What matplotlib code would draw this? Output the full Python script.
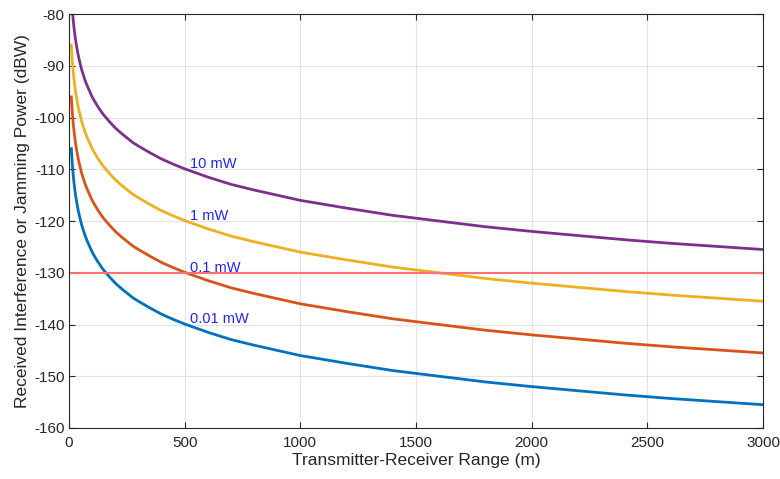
import matplotlib.pyplot as plt
from matplotlib import rcParams

rcParams["font.family"] = ["Liberation Sans", "DejaVu Sans"]
rcParams["axes.unicode_minus"] = False

# range values (m) along the x axis
range_m = [10, 11, 12, 13, 14, 15, 17, 20, 22, 25, 28, 30, 35, 40, 45, 50, 55, 60,
           70, 80, 90, 100, 110, 125, 140, 150, 175, 200, 225, 250, 275, 300, 350,
           400, 450, 500, 600, 700, 800, 900, 1000, 1200, 1400, 1600, 1800, 2000,
           2200, 2400, 2600, 2800, 3000]

# received power (dBW)
p_001mw = [-106.0, -106.8, -107.5, -108.2, -108.9, -109.5, -110.6, -112.0, -112.8,
           -113.9, -114.9, -115.5, -116.8, -118.0, -119.0, -119.9, -120.8, -121.5,
           -122.9, -124.0, -125.0, -126.0, -126.8, -127.9, -128.9, -129.5, -130.8,
           -132.0, -133.0, -133.9, -134.8, -135.5, -136.8, -138.0, -139.0, -139.9,
           -141.5, -142.9, -144.0, -145.0, -146.0, -147.5, -148.9, -150.0, -151.1,
           -152.0, -152.8, -153.6, -154.3, -154.9, -155.5]
p_01mw = [-96.0, -96.8, -97.5, -98.2, -98.9, -99.5, -100.6, -102.0, -102.8,
          -103.9, -104.9, -105.5, -106.8, -108.0, -109.0, -109.9, -110.8, -111.5,
          -112.9, -114.0, -115.0, -116.0, -116.8, -117.9, -118.9, -119.5, -120.8,
          -122.0, -123.0, -123.9, -124.8, -125.5, -126.8, -128.0, -129.0, -129.9,
          -131.5, -132.9, -134.0, -135.0, -136.0, -137.5, -138.9, -140.0, -141.1,
          -142.0, -142.8, -143.6, -144.3, -144.9, -145.5]
p_1mw = [-86.0, -86.8, -87.5, -88.2, -88.9, -89.5, -90.6, -92.0, -92.8,
         -93.9, -94.9, -95.5, -96.8, -98.0, -99.0, -99.9, -100.8, -101.5,
         -102.9, -104.0, -105.0, -106.0, -106.8, -107.9, -108.9, -109.5, -110.8,
         -112.0, -113.0, -113.9, -114.8, -115.5, -116.8, -118.0, -119.0, -119.9,
         -121.5, -122.9, -124.0, -125.0, -126.0, -127.5, -128.9, -130.0, -131.1,
         -132.0, -132.8, -133.6, -134.3, -134.9, -135.5]
p_10mw = [-76.0, -76.8, -77.5, -78.2, -78.9, -79.5, -80.6, -82.0, -82.8,
          -83.9, -84.9, -85.5, -86.8, -88.0, -89.0, -89.9, -90.8, -91.5,
          -92.9, -94.0, -95.0, -96.0, -96.8, -97.9, -98.9, -99.5, -100.8,
          -102.0, -103.0, -103.9, -104.8, -105.5, -106.8, -108.0, -109.0, -109.9,
          -111.5, -112.9, -114.0, -115.0, -116.0, -117.5, -118.9, -120.0, -121.1,
          -122.0, -122.8, -123.6, -124.3, -124.9, -125.5]

labels = ["0.01 mW", "0.1 mW", "1 mW", "10 mW"]
label_y = [-139, -129, -119, -109]
threshold = -130

fig = plt.figure(figsize=(7.8, 4.79), dpi=100)
ax = fig.add_axes([0.0885, 0.1065, 0.8897, 0.864])

ax.plot(range_m, p_001mw, color="#0072BD", lw=2)
ax.plot(range_m, p_01mw, color="#D95319", lw=2)
ax.plot(range_m, p_1mw, color="#EDB120", lw=2)
ax.plot(range_m, p_10mw, color="#7E2F8E", lw=2)
ax.axhline(threshold, color="#FF7070", lw=1.5)

for lab, y in zip(labels, label_y):
    ax.text(525, y, lab, color="#2222FF", fontsize=10.5, va="center", ha="left")

ax.set_xlim(0, 3000)
ax.set_ylim(-160, -80)
ax.set_xticks(range(0, 3001, 500))
ax.set_yticks(range(-160, -79, 10))
ax.grid(True, color="#E3E3E3", lw=0.8)
ax.set_axisbelow(True)
ax.tick_params(direction="in", length=4, labelsize=11, colors="#262626",
               top=True, right=True, labeltop=False, labelright=False)
ax.tick_params(axis="x", pad=6)
ax.tick_params(axis="y", pad=3)
for s in ax.spines.values():
    s.set_color("#262626")
    s.set_linewidth(0.8)

ax.set_xlabel("Transmitter-Receiver Range (m)", fontsize=12.5, color="#262626", labelpad=2)
ax.set_ylabel("Received Interference or Jamming Power (dBW)", fontsize=12.5,
              color="#262626", labelpad=3)

fig.savefig("out.png", dpi=100, facecolor="white")
